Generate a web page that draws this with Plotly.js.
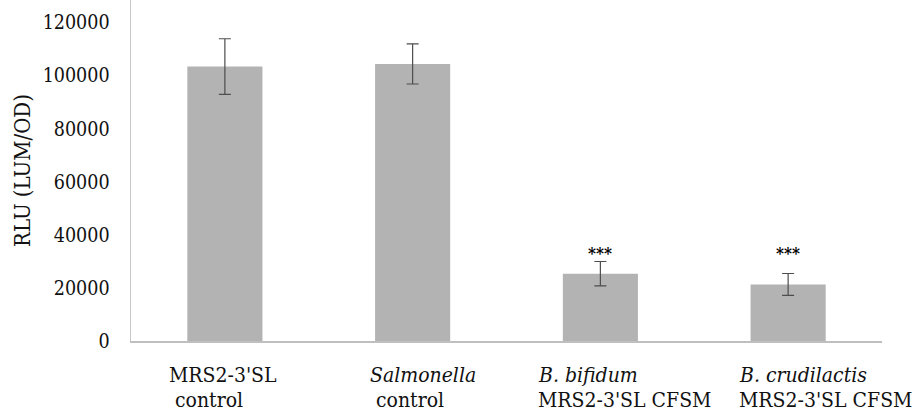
<!DOCTYPE html>
<html>
<head>
<meta charset="utf-8">
<script src="https://cdn.plot.ly/plotly-3.0.1.min.js"></script>
<style>html,body{margin:0;padding:0;background:#fff;}#chart{width:912px;height:412px;}</style>
</head>
<body>
<div id="chart"></div>
<script>
// ---- data ----
const categories = ["MRS2-3'SL control", "Salmonella control", "B. bifidum MRS2-3'SL CFSM", "B. crudilactis MRS2-3'SL CFSM"];
const labelLine1 = ["MRS2-3'SL", "<i>Salmonella</i>", "<i>B. bifidum</i>", "<i>B. crudilactis</i>"];
const labelLine2 = ["\u00a0control", "\u00a0control", "MRS2-3'SL CFSM", "MRS2-3'SL CFSM"];
const rluMean = [103400, 104400, 25350, 21330];
const rluErr = [10500, 7550, 4600, 4100];
const significance = ["", "", "***", "***"];
const yTicks = [0, 20000, 40000, 60000, 80000, 100000, 120000];

// ---- layout settings ----
const FONT = '"DejaVu Serif Condensed", "DejaVu Serif", serif';
const FS = 21;
const labelShift = [-58, -45, -64, -51];

const trace = {
  type: 'bar',
  x: categories,
  y: rluMean,
  width: 0.4,
  marker: {color: '#b3b3b3', line: {width: 0}},
  error_y: {type: 'data', array: rluErr, visible: true, color: '#4d4d4d', thickness: 1.2, width: 6},
  hoverinfo: 'none'
};

const annotations = [];
categories.forEach((c, i) => {
  annotations.push({
    x: c, xref: 'x', y: -0.1, yref: 'paper', xanchor: 'left', yanchor: 'middle', align: 'left',
    xshift: labelShift[i], text: labelLine1[i], showarrow: false,
    font: {family: FONT, size: FS, color: '#111'}
  });
  annotations.push({
    x: c, xref: 'x', y: -0.172, yref: 'paper', xanchor: 'left', yanchor: 'middle', align: 'left',
    xshift: labelShift[i], text: labelLine2[i], showarrow: false,
    font: {family: FONT, size: FS, color: '#111'}
  });
  if (significance[i]) {
    annotations.push({
      x: c, xref: 'x', y: 33300, yref: 'y', xanchor: 'center', yanchor: 'middle',
      text: '<b>' + significance[i] + '</b>', showarrow: false,
      font: {family: FONT, size: 17, color: '#000'}
    });
  }
});

const layout = {
  width: 912, height: 412,
  margin: {l: 131, r: 30, t: 0, b: 71},
  paper_bgcolor: '#fff', plot_bgcolor: '#fff',
  showlegend: false,
  font: {family: FONT, size: FS, color: '#111'},
  xaxis: {
    type: 'category', range: [-0.5, 3.5], showticklabels: false, ticks: '',
    showgrid: false, zeroline: false, showline: true, linecolor: '#bfbfbf', linewidth: 1.5, fixedrange: true
  },
  yaxis: {
    range: [0, 128500], tickvals: yTicks, ticktext: yTicks.map(String), showgrid: false, zeroline: false,
    showline: true, linecolor: '#c8c8c8', linewidth: 1.5, ticks: '', ticklabelstandoff: 16,
    tickfont: {family: FONT, size: 19.5, color: '#111'},
    title: {text: 'RLU (LUM/OD)', font: {family: FONT, size: 22, color: '#111'}, standoff: 6},
    fixedrange: true
  },
  annotations: annotations
};

Plotly.newPlot('chart', [trace], layout, {displayModeBar: false, staticPlot: true});
</script>
</body>
</html>
